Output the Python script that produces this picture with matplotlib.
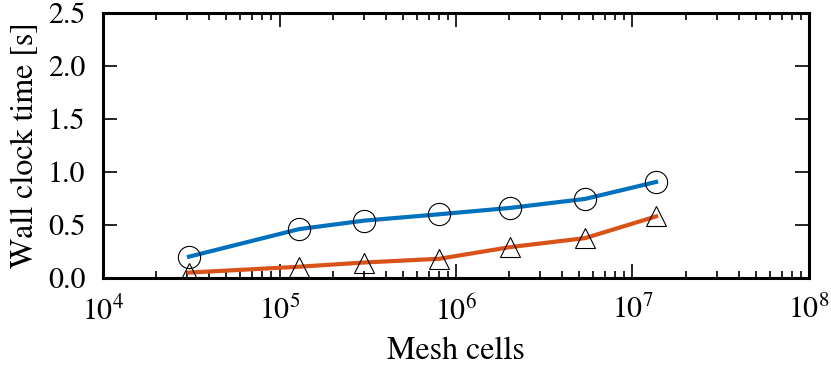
import matplotlib
matplotlib.use("Agg")
import matplotlib.pyplot as plt
from matplotlib.ticker import LogLocator, NullFormatter

plt.rcParams['font.family'] = ['STIXGeneral', 'DejaVu Serif']
plt.rcParams['mathtext.fontset'] = 'stix'

# mesh sizes and timings
cells = [3.07e4, 1.29e5, 3.01e5, 8.02e5, 2.02e6, 5.38e6, 1.36e7]
time_circle = [0.20, 0.46, 0.54, 0.60, 0.66, 0.745, 0.905]
time_triangle = [0.05, 0.105, 0.145, 0.18, 0.29, 0.375, 0.58]

fig = plt.figure(figsize=(8.31, 3.70), dpi=100)
ax = fig.add_axes([0.124, 0.249, 0.8495, 0.716])

ax.plot(cells, time_circle, color='#0072BD', linewidth=3, zorder=2)
ax.plot(cells, time_triangle, color='#D95319', linewidth=3, zorder=2)
ax.plot(cells, time_circle, linestyle='none', marker='o', markersize=16,
        markerfacecolor='none', markeredgecolor='black', markeredgewidth=0.8,
        zorder=3, clip_on=False)
ax.plot(cells, time_triangle, linestyle='none', marker='^', markersize=15,
        markerfacecolor='none', markeredgecolor='black', markeredgewidth=0.8,
        zorder=3)

ax.set_xscale('log')
ax.set_xlim(1e4, 1e8)
ax.set_ylim(0, 2.5)
ax.set_yticks([0.0, 0.5, 1.0, 1.5, 2.0, 2.5])
ax.set_yticklabels(['0.0', '0.5', '1.0', '1.5', '2.0', '2.5'])
ax.xaxis.set_major_locator(LogLocator(base=10, numticks=10))
ax.xaxis.set_minor_locator(LogLocator(base=10, subs=range(2, 10), numticks=20))
ax.xaxis.set_minor_formatter(NullFormatter())

for s in ax.spines.values():
    s.set_linewidth(2.2)

ax.tick_params(which='both', direction='in', top=True, right=True, width=1.2)
ax.tick_params(which='major', length=10, labelsize=21.5)
ax.tick_params(axis='y', which='major', pad=12.5)
ax.tick_params(axis='x', which='major', pad=13)
ax.tick_params(which='minor', length=5)

ax.set_xlabel('Mesh cells', fontsize=23, labelpad=7)
ax.set_ylabel('Wall clock time [s]', fontsize=23, labelpad=6)

plt.savefig('out.png', dpi=100)
